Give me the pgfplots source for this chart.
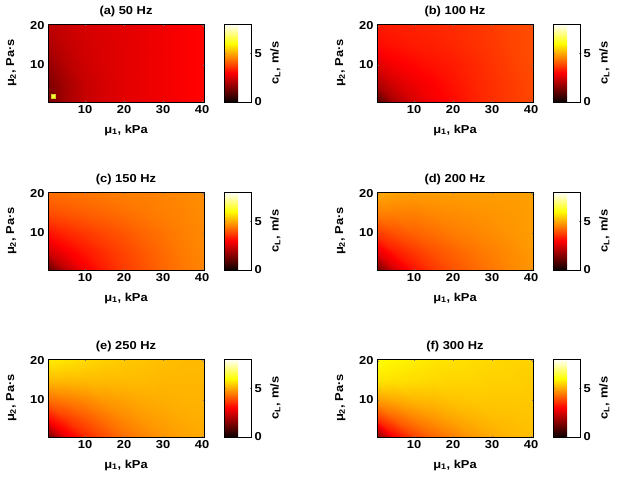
\documentclass[border=0pt]{standalone}
\usepackage{fontspec}
\setmainfont{Liberation Sans}[FakeStretch=1.12]
\usepackage{pgfplots}
\usepackage{pgfplotstable}
\pgfplotsset{compat=1.18}

% c_L in m/s on a 9 x 5 grid (mu1 = 0.5..40.5 kPa, mu2 = 0.5..20.5 Pa s)
\pgfplotstableread[row sep=\\]{
x y c\\
0.5 0.5 1.3\\ 5 0.5 1.9\\ 10 0.5 2.3\\ 15 0.5 2.5\\ 20 0.5 2.65\\ 25 0.5 2.75\\ 30 0.5 2.85\\ 35 0.5 2.95\\ 40.5 0.5 3.05\\
0.5 5 1.4\\ 5 5 1.9\\ 10 5 2.3\\ 15 5 2.5\\ 20 5 2.65\\ 25 5 2.75\\ 30 5 2.85\\ 35 5 2.95\\ 40.5 5 3.05\\
0.5 10 1.7\\ 5 10 2.1\\ 10 10 2.4\\ 15 10 2.55\\ 20 10 2.65\\ 25 10 2.75\\ 30 10 2.85\\ 35 10 2.95\\ 40.5 10 3.05\\
0.5 15 2.0\\ 5 15 2.25\\ 10 15 2.45\\ 15 15 2.55\\ 20 15 2.65\\ 25 15 2.75\\ 30 15 2.85\\ 35 15 2.95\\ 40.5 15 3.05\\
0.5 20.5 2.2\\ 5 20.5 2.35\\ 10 20.5 2.5\\ 15 20.5 2.6\\ 20 20.5 2.65\\ 25 20.5 2.75\\ 30 20.5 2.85\\ 35 20.5 2.95\\ 40.5 20.5 3.05\\
}\tA
\pgfplotstableread[row sep=\\]{
x y c\\
0.5 0.5 0.8\\ 5 0.5 2.0\\ 10 0.5 2.5\\ 15 0.5 2.9\\ 20 0.5 3.1\\ 25 0.5 3.35\\ 30 0.5 3.55\\ 35 0.5 3.7\\ 40.5 0.5 3.85\\
0.5 5 2.0\\ 5 5 2.5\\ 10 5 2.8\\ 15 5 3.0\\ 20 5 3.2\\ 25 5 3.4\\ 30 5 3.55\\ 35 5 3.7\\ 40.5 5 3.85\\
0.5 10 2.6\\ 5 10 2.9\\ 10 10 3.05\\ 15 10 3.2\\ 20 10 3.3\\ 25 10 3.45\\ 30 10 3.6\\ 35 10 3.75\\ 40.5 10 3.9\\
0.5 15 3.1\\ 5 15 3.2\\ 10 15 3.3\\ 15 15 3.35\\ 20 15 3.45\\ 25 15 3.55\\ 30 15 3.65\\ 35 15 3.8\\ 40.5 15 3.9\\
0.5 20.5 3.3\\ 5 20.5 3.35\\ 10 20.5 3.4\\ 15 20.5 3.45\\ 20 20.5 3.5\\ 25 20.5 3.6\\ 30 20.5 3.7\\ 35 20.5 3.8\\ 40.5 20.5 3.9\\
}\tB
\pgfplotstableread[row sep=\\]{
x y c\\
0.5 0.5 1.0\\ 5 0.5 2.2\\ 10 0.5 2.9\\ 15 0.5 3.35\\ 20 0.5 3.7\\ 25 0.5 3.95\\ 30 0.5 4.2\\ 35 0.5 4.4\\ 40.5 0.5 4.55\\
0.5 5 2.4\\ 5 5 2.9\\ 10 5 3.25\\ 15 5 3.55\\ 20 5 3.8\\ 25 5 4.05\\ 30 5 4.25\\ 35 5 4.45\\ 40.5 5 4.6\\
0.5 10 3.2\\ 5 10 3.45\\ 10 10 3.65\\ 15 10 3.85\\ 20 10 4.0\\ 25 10 4.2\\ 30 10 4.35\\ 35 10 4.5\\ 40.5 10 4.6\\
0.5 15 3.9\\ 5 15 4.0\\ 10 15 4.1\\ 15 15 4.2\\ 20 15 4.3\\ 25 15 4.4\\ 30 15 4.5\\ 35 15 4.55\\ 40.5 15 4.65\\
0.5 20.5 4.3\\ 5 20.5 4.35\\ 10 20.5 4.4\\ 15 20.5 4.45\\ 20 20.5 4.5\\ 25 20.5 4.5\\ 30 20.5 4.55\\ 35 20.5 4.6\\ 40.5 20.5 4.65\\
}\tC
\pgfplotstableread[row sep=\\]{
x y c\\
0.5 0.5 1.2\\ 5 0.5 2.5\\ 10 0.5 3.2\\ 15 0.5 3.65\\ 20 0.5 3.95\\ 25 0.5 4.2\\ 30 0.5 4.4\\ 35 0.5 4.6\\ 40.5 0.5 4.75\\
0.5 5 2.7\\ 5 5 3.3\\ 10 5 3.65\\ 15 5 3.95\\ 20 5 4.15\\ 25 5 4.35\\ 30 5 4.5\\ 35 5 4.65\\ 40.5 5 4.8\\
0.5 10 3.7\\ 5 10 3.95\\ 10 10 4.15\\ 15 10 4.3\\ 20 10 4.45\\ 25 10 4.55\\ 30 10 4.65\\ 35 10 4.75\\ 40.5 10 4.85\\
0.5 15 4.5\\ 5 15 4.5\\ 10 15 4.5\\ 15 15 4.6\\ 20 15 4.65\\ 25 15 4.7\\ 30 15 4.75\\ 35 15 4.8\\ 40.5 15 4.85\\
0.5 20.5 5.0\\ 5 20.5 4.9\\ 10 20.5 4.85\\ 15 20.5 4.85\\ 20 20.5 4.85\\ 25 20.5 4.85\\ 30 20.5 4.85\\ 35 20.5 4.85\\ 40.5 20.5 4.9\\
}\tD
\pgfplotstableread[row sep=\\]{
x y c\\
0.5 0.5 1.3\\ 5 0.5 2.7\\ 10 0.5 3.45\\ 15 0.5 3.9\\ 20 0.5 4.3\\ 25 0.5 4.55\\ 30 0.5 4.75\\ 35 0.5 4.9\\ 40.5 0.5 5.0\\
0.5 5 3.1\\ 5 5 3.65\\ 10 5 4.0\\ 15 5 4.35\\ 20 5 4.6\\ 25 5 4.8\\ 30 5 4.9\\ 35 5 5.0\\ 40.5 5 5.05\\
0.5 10 4.3\\ 5 10 4.45\\ 10 10 4.6\\ 15 10 4.8\\ 20 10 4.9\\ 25 10 5.0\\ 30 10 5.05\\ 35 10 5.1\\ 40.5 10 5.1\\
0.5 15 5.2\\ 5 15 5.2\\ 10 15 5.2\\ 15 15 5.2\\ 20 15 5.2\\ 25 15 5.2\\ 30 15 5.15\\ 35 15 5.15\\ 40.5 15 5.15\\
0.5 20.5 5.8\\ 5 20.5 5.7\\ 10 20.5 5.55\\ 15 20.5 5.45\\ 20 20.5 5.35\\ 25 20.5 5.3\\ 30 20.5 5.25\\ 35 20.5 5.2\\ 40.5 20.5 5.2\\
}\tE
\pgfplotstableread[row sep=\\]{
x y c\\
0.5 0.5 1.5\\ 5 0.5 3.0\\ 10 0.5 3.75\\ 15 0.5 4.2\\ 20 0.5 4.5\\ 25 0.5 4.8\\ 30 0.5 5.0\\ 35 0.5 5.15\\ 40.5 0.5 5.25\\
0.5 5 3.6\\ 5 5 4.15\\ 10 5 4.5\\ 15 5 4.75\\ 20 5 4.95\\ 25 5 5.1\\ 30 5 5.2\\ 35 5 5.25\\ 40.5 5 5.3\\
0.5 10 4.85\\ 5 10 5.0\\ 10 10 5.15\\ 15 10 5.2\\ 20 10 5.3\\ 25 10 5.35\\ 30 10 5.35\\ 35 10 5.35\\ 40.5 10 5.35\\
0.5 15 5.7\\ 5 15 5.65\\ 10 15 5.6\\ 15 15 5.55\\ 20 15 5.5\\ 25 15 5.5\\ 30 15 5.45\\ 35 15 5.45\\ 40.5 15 5.4\\
0.5 20.5 6.0\\ 5 20.5 5.9\\ 10 20.5 5.8\\ 15 20.5 5.7\\ 20 20.5 5.65\\ 25 20.5 5.6\\ 30 20.5 5.55\\ 35 20.5 5.5\\ 40.5 20.5 5.5\\
}\tF

\pgfplotsset{
  hm/.style={
    scale only axis, width=156pt, height=78pt, anchor=north west,
    xmin=0.5, xmax=40.5, ymin=0.5, ymax=20.5,
    xtick={10,20,30,40}, ytick={10,20},
    tick align=inside, major tick length=1.5pt, axis on top,
    colormap={hotm}{rgb255(0cm)=(11,0,0); rgb255(3cm)=(255,0,0); rgb255(6cm)=(255,255,0); rgb255(8cm)=(255,255,255)},
    point meta min=0, point meta max=8,
    font=\bfseries\fontsize{11.5}{13}\selectfont,
    tick label style={font=\bfseries\fontsize{11.5}{13}\selectfont},
    /pgf/number format/assume math mode=true,
    title style={yshift=-2pt},
    xlabel={μ\textsubscript{1}, kPa}, ylabel={μ\textsubscript{2}, Pa·s},
    every axis x label/.style={at={(axis description cs:0.5,-0.36)}, anchor=center},
    every axis y label/.style={at={(axis description cs:-0.235,0.5)}, rotate=90, anchor=center},
    colorbar,
    colorbar shift/.style={xshift=20pt},
    colorbar style={
      scale only axis, at={(parent axis.north east)}, anchor=north west, width=27pt,
      ytick={0,5}, yticklabel pos=right, tick align=inside, major tick length=1.5pt,
      font=\bfseries\fontsize{11.5}{13}\selectfont,
      tick label style={font=\bfseries\fontsize{11.5}{13}\selectfont},
      /pgf/number format/assume math mode=true,
      ylabel={c\textsubscript{L}, m/s},
      every axis y label/.style={at={(axis description cs:1.9,0.5)}, rotate=90, anchor=center},
    },
  },
  hmplot/.style={surf, shader=interp, mesh/cols=9, point meta=\thisrow{c}},
}

\begin{document}
\begin{tikzpicture}
\path[use as bounding box] (0pt,0pt) rectangle (617pt,-482pt);
\begin{axis}[hm, at={(48pt,-24pt)}, title={(a) 50 Hz}]
  \addplot[hmplot] table[x=x, y=y] {\tA};
  \addplot[scatter, only marks, mark=square*, mark size=2pt, point meta=explicit] coordinates {(1.8,1.9) [6.4]};
\end{axis}
\begin{axis}[hm, at={(377pt,-24pt)}, title={(b) 100 Hz}]
  \addplot[hmplot] table[x=x, y=y] {\tB};
\end{axis}
\begin{axis}[hm, at={(48pt,-192pt)}, title={(c) 150 Hz}]
  \addplot[hmplot] table[x=x, y=y] {\tC};
\end{axis}
\begin{axis}[hm, at={(377pt,-192pt)}, title={(d) 200 Hz}]
  \addplot[hmplot] table[x=x, y=y] {\tD};
\end{axis}
\begin{axis}[hm, at={(48pt,-359pt)}, title={(e) 250 Hz}]
  \addplot[hmplot] table[x=x, y=y] {\tE};
\end{axis}
\begin{axis}[hm, at={(377pt,-359pt)}, title={(f) 300 Hz}]
  \addplot[hmplot] table[x=x, y=y] {\tF};
\end{axis}
\end{tikzpicture}
\end{document}
